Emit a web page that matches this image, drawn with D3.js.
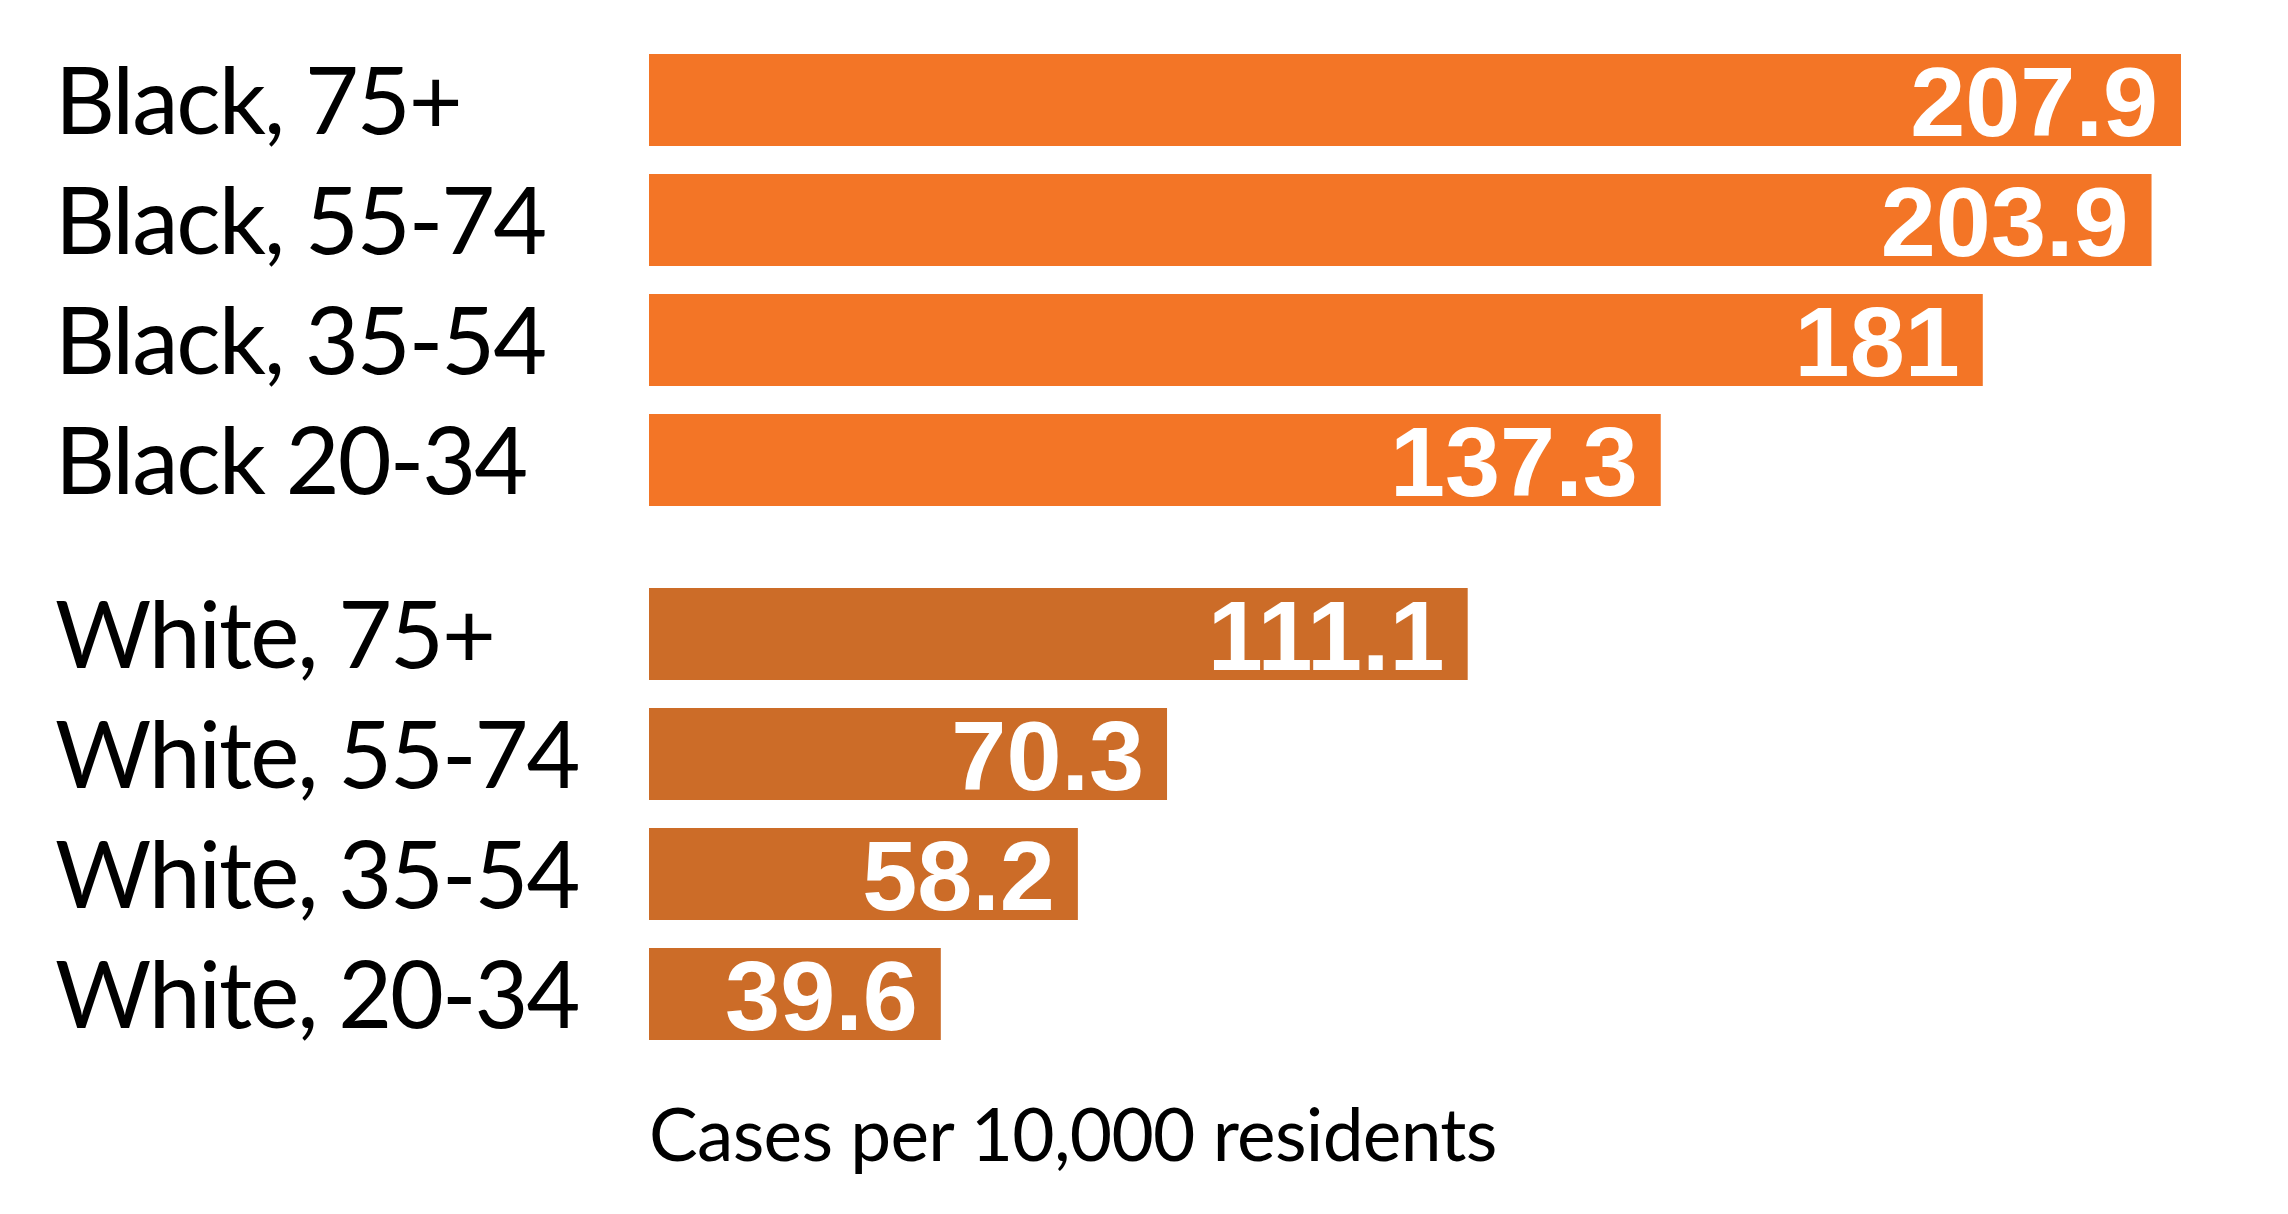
<!DOCTYPE html>
<html>
<head>
<meta charset="utf-8">
<script src="https://cdn.jsdelivr.net/npm/d3@7"></script>
<style>
  html, body { margin: 0; padding: 0; background: #ffffff; }
  svg { display: block; }
</style>
</head>
<body>
<svg id="chart" width="2288" height="1214"></svg>
<script>
// ---- data ----
const categories = ["Black, 75+", "Black, 55-74", "Black, 35-54", "Black 20-34",
                    "White, 75+", "White, 55-74", "White, 35-54", "White, 20-34"];
const groups = ["Black", "Black", "Black", "Black", "White", "White", "White", "White"];
const values = [207.9, 203.9, 181, 137.3, 111.1, 70.3, 58.2, 39.6];
const valueLabels = ["207.9", "203.9", "181", "137.3", "111.1", "70.3", "58.2", "39.6"];
const axisTitle = "Cases per 10,000 residents";
const groupColors = { Black: "#F37526", White: "#CC6C28" };

// ---- layout ----
const barLeft = 649, barRightMax = 2181;
const barH = 92;
const groupGap = 0.45; // extra rows between groups

const svg = d3.select("#chart");

const x = d3.scaleLinear().domain([0, d3.max(values)]).range([barLeft, barRightMax]);

const rowIndex = categories.map((c, i) => i + (groups[i] === "White" ? groupGap : 0));
const y = d3.scaleLinear().domain([0, 1]).range([100, 220]); // bar centers

const data = categories.map((c, i) => ({
  cat: c, group: groups[i], value: values[i], label: valueLabels[i], row: rowIndex[i]
}));

// bars
svg.append("g").selectAll("rect").data(data).join("rect")
  .attr("x", x(0))
  .attr("y", d => y(d.row) - barH / 2)
  .attr("width", d => x(d.value) - x(0))
  .attr("height", barH)
  .attr("fill", d => groupColors[d.group]);

// value labels
svg.append("g").selectAll("text").data(data).join("text")
  .attr("x", d => x(d.value) - 23)
  .attr("y", d => y(d.row) + 36)
  .attr("text-anchor", "end")
  .attr("font-family", "'Liberation Sans', Arial, sans-serif")
  .attr("font-weight", "bold")
  .attr("font-size", 99)
  .attr("fill", "#ffffff")
  .text(d => d.label);

// category labels
svg.append("g").selectAll("text").data(data).join("text")
  .attr("x", 55)
  .attr("y", d => y(d.row) + 34)
  .attr("text-anchor", "start")
  .attr("font-family", "Lato, 'Noto Sans', sans-serif")
  .attr("font-size", 93)
  .attr("letter-spacing", "-2px")
  .attr("fill", "#000000")
  .text(d => d.cat);

// axis title
svg.append("text")
  .attr("x", barLeft)
  .attr("y", 1161)
  .attr("font-family", "Lato, 'Noto Sans', sans-serif")
  .attr("font-size", 73)
  .attr("letter-spacing", "-0.7px")
  .attr("fill", "#000000")
  .text(axisTitle);
</script>
</body>
</html>
